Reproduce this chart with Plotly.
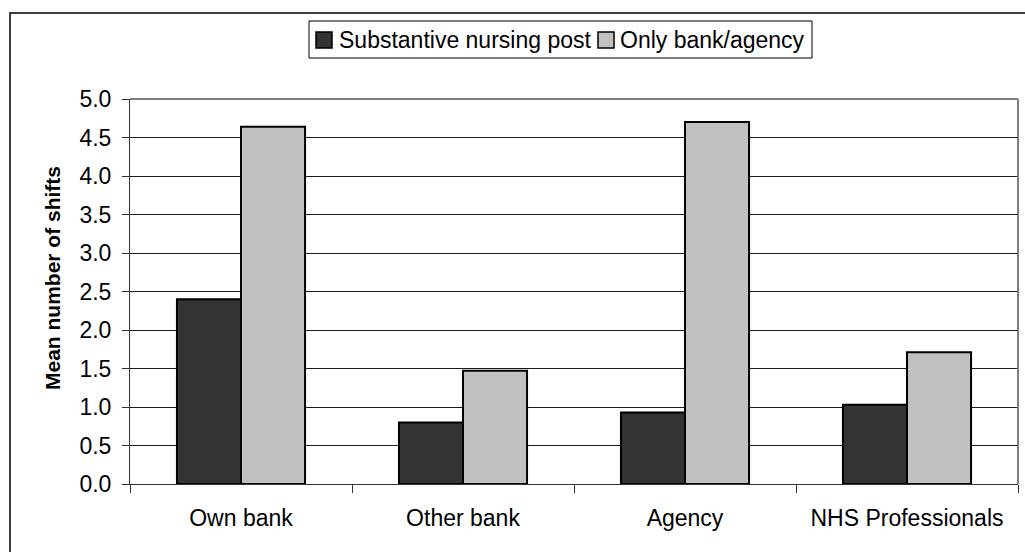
import plotly.graph_objects as go

categories = ["Own bank", "Other bank", "Agency", "NHS Professionals"]
substantive = [2.40, 0.80, 0.93, 1.03]
bank_only = [4.64, 1.47, 4.70, 1.71]
series_names = ["Substantive nursing post", "Only bank/agency"]
series_colors = ["#333333", "#c0c0c0"]
y_ticks = [0.0, 0.5, 1.0, 1.5, 2.0, 2.5, 3.0, 3.5, 4.0, 4.5, 5.0]

FONT = "Liberation Sans, Arial, sans-serif"
W, H = 1025, 552
L, R, T, B = 130, 7, 99, 68
pw, ph = W - L - R, H - T - B


def px_x(v):
    return (v - L) / pw


def px_y(v):
    return (H - B - v) / ph


fig = go.Figure()
for name, vals, col in zip(series_names, [substantive, bank_only], series_colors):
    fig.add_trace(go.Bar(
        x=categories, y=vals, name=name, showlegend=False,
        marker=dict(color=col, line=dict(color="#000000", width=2)),
    ))

shapes = [
    # plot-area border on the top and right
    dict(type="line", xref="paper", yref="paper", x0=0, x1=1, y0=1, y1=1,
         line=dict(color="#808080", width=2)),
    dict(type="line", xref="paper", yref="paper", x0=1, x1=1, y0=0, y1=1,
         line=dict(color="#808080", width=2)),
    # chart frame
    dict(type="rect", xref="paper", yref="paper",
         x0=px_x(10), x1=px_x(1040), y0=px_y(13), y1=px_y(570),
         line=dict(color="#000000", width=1.5), layer="below"),
    # legend box
    dict(type="rect", xref="paper", yref="paper",
         x0=px_x(309), x1=px_x(812), y0=px_y(21), y1=px_y(58),
         line=dict(color="#000000", width=1), fillcolor="white"),
]
annotations = [
    dict(text="<b>Mean number of shifts</b>", textangle=-90,
         xref="paper", yref="paper", x=px_x(52), y=px_y(278),
         xanchor="center", yanchor="middle", showarrow=False,
         font=dict(family=FONT, size=21, color="#000000")),
]

# legend entries: swatch + label
legend_items = [(316, 337), (598, 618)]
for (sx, tx), name, col in zip(legend_items, series_names, series_colors):
    shapes.append(dict(type="rect", xref="paper", yref="paper",
                       x0=px_x(sx), x1=px_x(sx + 16), y0=px_y(32), y1=px_y(48),
                       line=dict(color="#000000", width=1.5), fillcolor=col))
    annotations.append(dict(text=name, xref="paper", yref="paper",
                            x=px_x(tx), y=px_y(40), xanchor="left", yanchor="middle",
                            showarrow=False,
                            font=dict(family=FONT, size=23, color="#000000")))

fig.update_layout(
    width=W, height=H,
    margin=dict(l=L, r=R, t=T, b=B, pad=0),
    paper_bgcolor="white", plot_bgcolor="white",
    barmode="group", bargap=0.423, bargroupgap=0,
    font=dict(family=FONT, size=23, color="#000000"),
    xaxis=dict(
        type="category", tickson="boundaries", ticks="outside", ticklen=8,
        tickcolor="#333333", tickwidth=1,
        showline=True, linecolor="#333333", linewidth=1,
        showgrid=False, ticklabelstandoff=13,
        tickfont=dict(family=FONT, size=23),
    ),
    yaxis=dict(
        range=[0, 5.0], tickvals=y_ticks,
        ticktext=[f"{v:.1f}" for v in y_ticks],
        ticks="outside", ticklen=7, tickcolor="#333333", tickwidth=1,
        showline=True, linecolor="#333333", linewidth=1,
        showgrid=True, gridcolor="#1a1a1a", gridwidth=1,
        zeroline=False, ticklabelstandoff=6,
        tickfont=dict(family=FONT, size=23),
    ),
    shapes=shapes,
    annotations=annotations,
)

fig.write_html("out.html")
